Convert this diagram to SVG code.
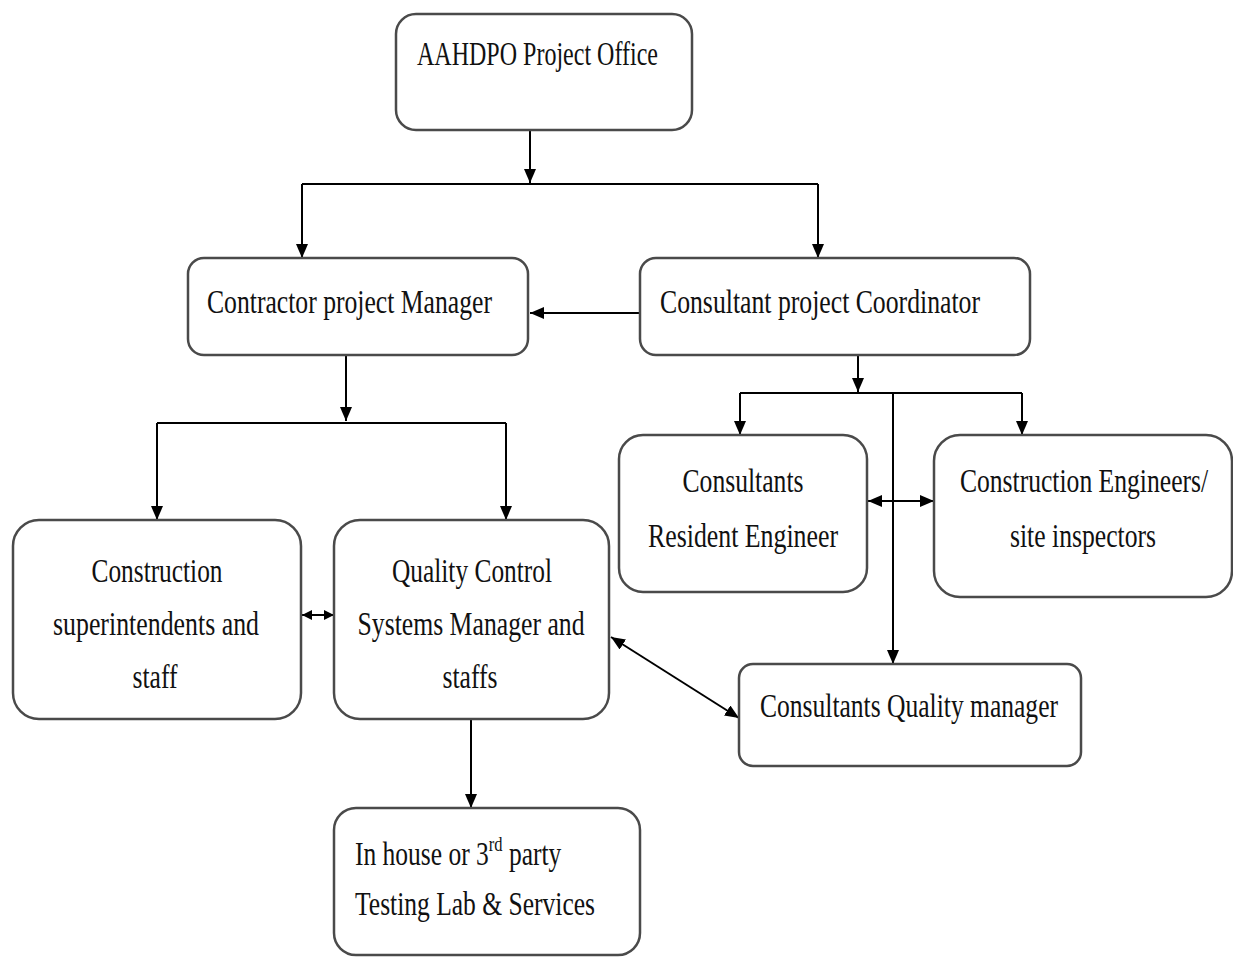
<svg xmlns="http://www.w3.org/2000/svg" width="1233" height="958" viewBox="0 0 1233 958">
<style>
.box{fill:#fff;stroke:#4a4a4a;stroke-width:2.5}
.t{font-family:"Liberation Serif","Times New Roman",serif;font-size:34px;fill:#111}
.m{text-anchor:middle}
.c{fill:none;stroke:#000;stroke-width:2}
</style>
<defs>
<marker id="ah" markerUnits="userSpaceOnUse" markerWidth="14" markerHeight="12" refX="14" refY="6" orient="auto-start-reverse"><path d="M0,0 L14,6 L0,12 z" fill="#000"/></marker>
<marker id="as" markerUnits="userSpaceOnUse" markerWidth="10" markerHeight="10" refX="10" refY="5" orient="auto-start-reverse"><path d="M0,0 L10,5 L0,10 z" fill="#000"/></marker>
</defs>
<rect width="1233" height="958" fill="#fff"/>
<g id="connectors">
<path class="c" d="M530,130 V183" marker-end="url(#ah)"/>
<path class="c" d="M302,184 H818"/>
<path class="c" d="M302,184 V258" marker-end="url(#ah)"/>
<path class="c" d="M818,184 V258" marker-end="url(#ah)"/>
<path class="c" d="M640,313 H530" marker-end="url(#ah)"/>
<path class="c" d="M346,355 V421" marker-end="url(#ah)"/>
<path class="c" d="M157,423 H506"/>
<path class="c" d="M157,423 V520" marker-end="url(#ah)"/>
<path class="c" d="M506,423 V520" marker-end="url(#ah)"/>
<path class="c" d="M858,355 V392" marker-end="url(#ah)"/>
<path class="c" d="M740,393 H1022"/>
<path class="c" d="M740,393 V435" marker-end="url(#ah)"/>
<path class="c" d="M1022,393 V435" marker-end="url(#ah)"/>
<path class="c" d="M893,393 V664" marker-end="url(#ah)"/>
<path class="c" d="M868,501 H934" marker-start="url(#ah)" marker-end="url(#ah)"/>
<path class="c" d="M302,615 H334" marker-start="url(#as)" marker-end="url(#as)"/>
<path class="c" d="M611,637 L739,718" marker-start="url(#ah)" marker-end="url(#ah)"/>
<path class="c" d="M471,719 V808" marker-end="url(#ah)"/>
</g>
<g id="n1"><rect class="box" x="396" y="14" width="296" height="116" rx="20"/>
<text class="t" x="417" y="65" textLength="241" lengthAdjust="spacingAndGlyphs">AAHDPO Project Office</text></g>
<g id="n2"><rect class="box" x="188" y="258" width="340" height="97" rx="16"/>
<text class="t" x="207" y="313" textLength="285" lengthAdjust="spacingAndGlyphs">Contractor project Manager</text></g>
<g id="n3"><rect class="box" x="640" y="258" width="390" height="97" rx="16"/>
<text class="t" x="660" y="313" textLength="320" lengthAdjust="spacingAndGlyphs">Consultant project Coordinator</text></g>
<g id="n4"><rect class="box" x="13" y="520" width="288" height="199" rx="26"/>
<text class="t m" x="157" y="582" textLength="131" lengthAdjust="spacingAndGlyphs">Construction</text>
<text class="t m" x="156" y="635" textLength="206" lengthAdjust="spacingAndGlyphs">superintendents and</text>
<text class="t m" x="155" y="688" textLength="45" lengthAdjust="spacingAndGlyphs">staff</text></g>
<g id="n5"><rect class="box" x="334" y="520" width="275" height="199" rx="26"/>
<text class="t m" x="472" y="582" textLength="160" lengthAdjust="spacingAndGlyphs">Quality Control</text>
<text class="t m" x="471" y="635" textLength="227" lengthAdjust="spacingAndGlyphs">Systems Manager and</text>
<text class="t m" x="470" y="688" textLength="55" lengthAdjust="spacingAndGlyphs">staffs</text></g>
<g id="n6"><rect class="box" x="619" y="435" width="248" height="157" rx="24"/>
<text class="t m" x="743" y="492" textLength="121" lengthAdjust="spacingAndGlyphs">Consultants</text>
<text class="t m" x="743" y="547" textLength="190" lengthAdjust="spacingAndGlyphs">Resident Engineer</text></g>
<g id="n7"><rect class="box" x="934" y="435" width="298" height="162" rx="26"/>
<text class="t m" transform="translate(1084,492) scale(0.75,1)" x="0" y="0" textLength="331" lengthAdjust="spacingAndGlyphs">Construction Engineers/</text>
<text class="t m" x="1083" y="547" textLength="146" lengthAdjust="spacingAndGlyphs">site inspectors</text></g>
<g id="n8"><rect class="box" x="739" y="664" width="342" height="102" rx="14"/>
<text class="t" x="760" y="717" textLength="298" lengthAdjust="spacingAndGlyphs">Consultants Quality manager</text></g>
<g id="n9"><rect class="box" x="334" y="808" width="306" height="147" rx="22"/>
<text class="t" transform="translate(355,865) scale(0.75,1)" x="0" y="0">In house or 3<tspan font-size="22" dy="-14">rd</tspan><tspan dy="14"> party</tspan></text>
<text class="t" x="355" y="915" textLength="240" lengthAdjust="spacingAndGlyphs">Testing Lab &amp; Services</text></g>
</svg>
